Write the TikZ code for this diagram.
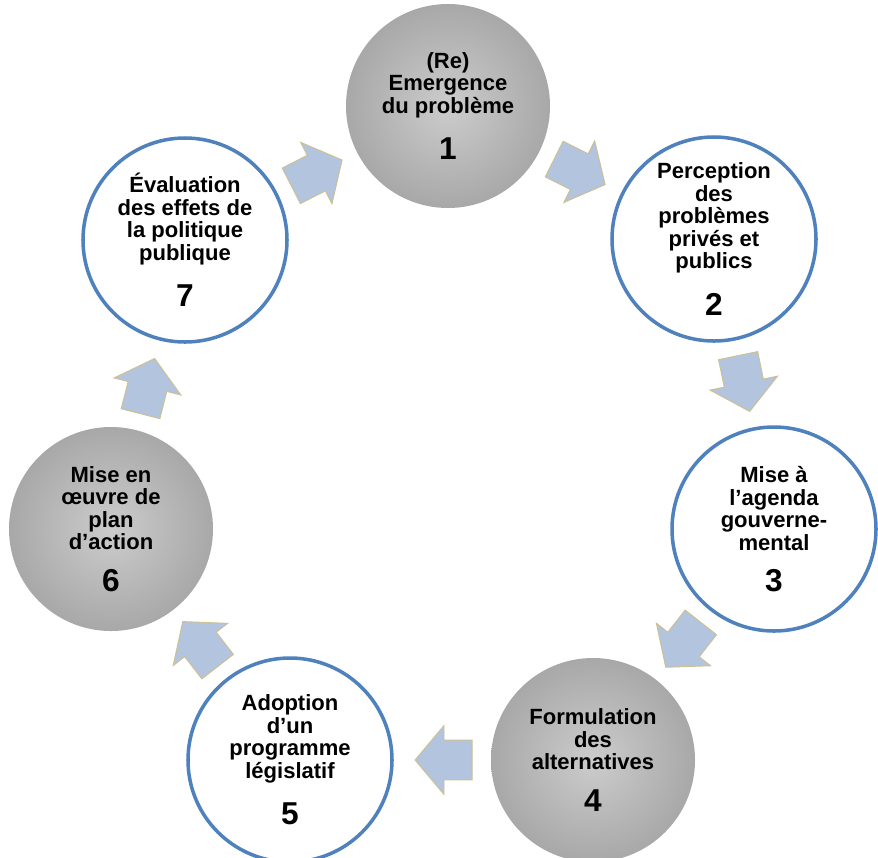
\documentclass[tikz,border=0pt]{standalone}
\usepackage{fontspec}
\setmainfont{Liberation Sans}
\usetikzlibrary{shapes.arrows}

\definecolor{cercle}{RGB}{79,129,189}
\definecolor{grisclair}{RGB}{204,204,204}
\definecolor{grisfonce}{RGB}{168,168,168}
\definecolor{flechefond}{RGB}{179,196,222}
\definecolor{flechebord}{RGB}{205,192,145}

\newcommand{\numetape}[1]{{\fontsize{27}{27}\selectfont #1}}

\begin{document}
\begin{tikzpicture}[x=0.03cm,y=-0.03cm,
	etape/.style={circle,minimum size=6.12cm,inner sep=0pt,align=center,font=\bfseries\fontsize{18.8}{19.2}\selectfont},
	blanc/.style={etape,draw=cercle,line width=3pt,fill=white},
	gris/.style={etape,shade,inner color=grisclair,outer color=grisfonce},
	fleche/.style={single arrow,draw=flechebord,fill=flechefond,line width=0.8pt,minimum height=1.71cm,inner xsep=0pt,inner ysep=0.585cm,single arrow head extend=0.435cm,single arrow tip angle=100,pos=0.4,sloped,allow upside down}]
	\clip (0,0) rectangle (878,857);
	\node[gris] (c1) at (448,106) {(Re)\\Emergence\\du problème\\[16pt]\numetape{1}};
	\node[blanc] (c2) at (714,239) {Perception\\des\\problèmes\\privés et\\publics\\[16pt]\numetape{2}};
	\node[blanc] (c3) at (774,529) {Mise à\\l’agenda\\gouverne-\\mental\\[16pt]\numetape{3}};
	\node[gris] (c4) at (593,760) {Formulation\\des\\alternatives\\[16pt]\numetape{4}};
	\node[blanc] (c5) at (290,760) {Adoption\\d’un\\programme\\législatif\\[16pt]\numetape{5}};
	\node[gris] (c6) at (111,529) {Mise en\\œuvre de\\plan\\d’action\\[16pt]\numetape{6}};
	\node[blanc] (c7) at (185,240) {Évaluation\\des effets de\\la politique\\publique\\[16pt]\numetape{7}};
	\path (c1) -- node[fleche] {} (c2);
	\path (c2) -- node[fleche] {} (c3);
	\path (c3) -- node[fleche] {} (c4);
	\path (c4) -- node[fleche] {} (c5);
	\path (c5) -- node[fleche] {} (c6);
	\path (c6) -- node[fleche] {} (c7);
	\path (c7) -- node[fleche] {} (c1);
\end{tikzpicture}
\end{document}
